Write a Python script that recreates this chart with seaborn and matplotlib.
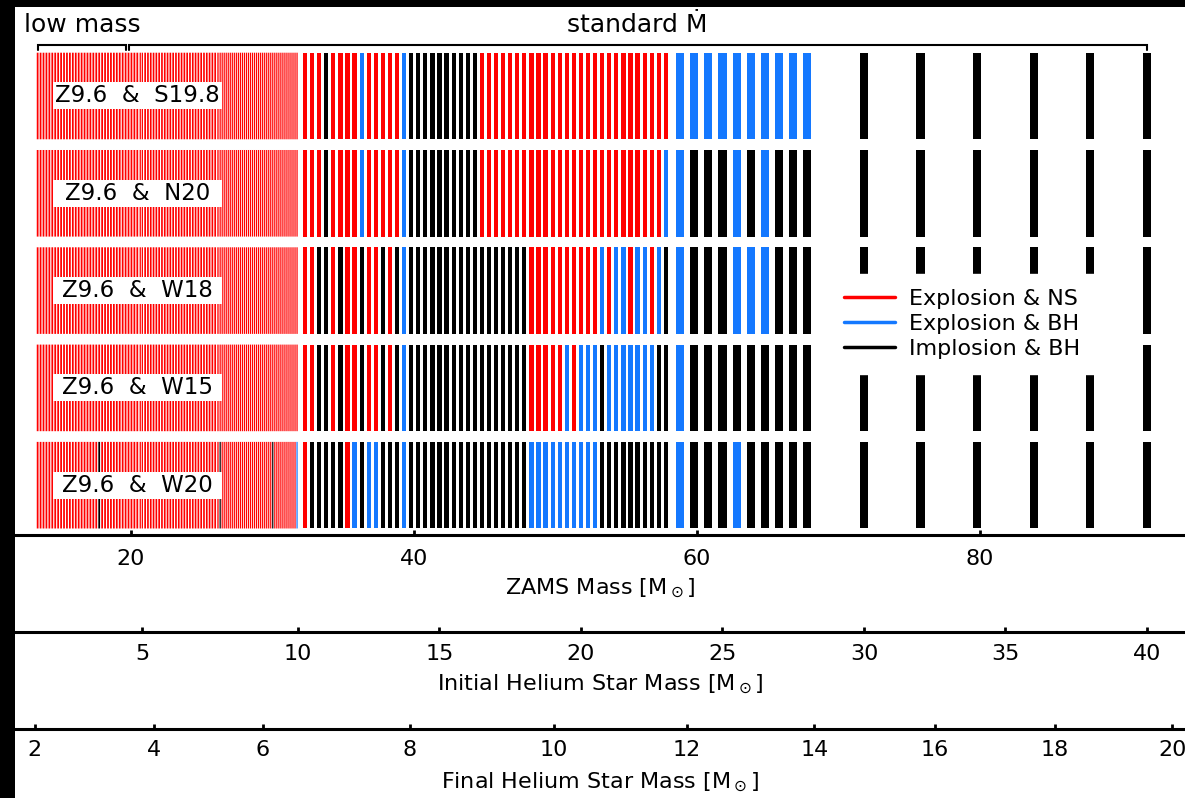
import numpy as np
import matplotlib
matplotlib.use("Agg")
import matplotlib.pyplot as plt
from matplotlib.lines import Line2D
from matplotlib.patches import Rectangle
import seaborn as sns

# ---------------------------------------------------------------- data ----
CALIBRATIONS = ["Z9.6 & S19.8", "Z9.6 & N20", "Z9.6 & W18", "Z9.6 & W15", "Z9.6 & W20"]

OUTCOME_LABELS = {"N": "Explosion & NS", "B": "Explosion & BH", "K": "Implosion & BH"}

# initial helium-star mass grid of the low-mass part: (first mass, step, number of models)
DENSE_SEGMENTS = [(2.50, 0.07, 36), (5.00, 0.09, 28), (7.50, 0.065, 39)]
# outcomes that differ from "Explosion & NS" in the low-mass part (He mass -> outcome)
DENSE_EXCEPTIONS = [
    {},
    {},
    {},
    {},
    {4.00: "K", 7.47: "K", 9.17: "K", 9.97: "B"},
]

# standard mass-loss models, three sub-grids
MASS_B = [10.25 + 0.25 * i for i in range(52)]
MASS_C = [23.5 + 0.5 * i for i in range(10)]
MASS_D = [30.0, 32.0, 34.0, 36.0, 38.0, 40.0]

OUTCOMES_B = [
    "NNNKNNNNBNNNNNB" + "K" * 10 + "N" * 27,
    "NNNKNNNNBNNNNNB" + "K" * 10 + "N" * 26 + "B",
    "NNKKNKNNKNNKNKB" + "K" * 17 + "N" * 10 + "BNBBNBBNBK",
    "NNKKNKNNKNNKNKB" + "K" * 17 + "NNNNNBNBBBK" + "B" * 7 + "KK",
    "NKKKKKNBKBBKKKB" + "K" * 17 + "B" * 10 + "K" * 10,
]
OUTCOMES_C = ["BBBBBBBBBB", "BKKKBKBKKK", "BKKKBBBKKK", "BKKKKKKKKK", "BKKKBKKKKK"]
OUTCOMES_D = ["KKKKKK"] * 5

# relation between initial helium-star mass and ZAMS mass
HE_INIT_REF = [2.5, 5.0, 10.0, 15.0, 20.0, 25.0, 30.0, 35.0, 40.0]
ZAMS_REF = [13.4, 20.8, 31.8, 41.8, 51.8, 61.8, 71.8, 81.8, 91.8]
# relation between final helium-star mass and ZAMS mass
HE_FINAL_REF = [2, 4, 6, 8, 10, 12, 14, 16, 18, 20]
ZAMS_FINAL_REF = [13.2, 21.6, 29.3, 39.7, 49.9, 59.3, 68.3, 76.8, 85.3, 93.6]

ZAMS_TICKS = [20, 40, 60, 80]
HE_INIT_TICKS = [5, 10, 15, 20, 25, 30, 35, 40]
HE_FINAL_TICKS = [2, 4, 6, 8, 10, 12, 14, 16, 18, 20]

LOW_MASS_SPLIT = 4.65  # initial He mass separating "low mass" and "standard" sets

# --------------------------------------------------------------- style ----
sns.set_style("white")
plt.rcParams["font.family"] = ["DejaVu Sans"]
plt.rcParams["mathtext.fontset"] = "dejavusans"
plt.rcParams["text.color"] = "black"
plt.rcParams["axes.labelcolor"] = "black"
plt.rcParams["xtick.color"] = "black"
palette = dict(zip("NBK", sns.color_palette(["#ff0000", "#1478ff", "#000000"])))

FS = 16
W, H = 1185, 798
fig = plt.figure(figsize=(W / 100, H / 100), dpi=100)
fig.patch.set_facecolor("white")

def fx(px):
    return px / W

def fy(py):
    return 1 - py / H

XLIM = (11.80, 94.49)
ax = fig.add_axes([fx(15), fy(535), 1 - fx(15), fy(40) - fy(535)])

# ------------------------------------------------------------- models -----
he_dense = np.concatenate([s + st * np.arange(n) for s, st, n in DENSE_SEGMENTS])
he_all = np.concatenate([he_dense, MASS_B, MASS_C, MASS_D])
zams = np.interp(he_all, HE_INIT_REF, ZAMS_REF)

gaps = np.diff(zams)
spacing = np.minimum(np.r_[gaps[0], gaps], np.r_[gaps, gaps[-1]])
widths = np.minimum(0.6 * spacing, 0.58)
n_dense = len(he_dense)

row_h = 0.89
for r, name in enumerate(CALIBRATIONS):
    codes = ["N"] * n_dense
    for m, c in DENSE_EXCEPTIONS[r].items():
        codes[int(np.argmin(np.abs(he_dense - m)))] = c
    codes += list(OUTCOMES_B[r]) + list(OUTCOMES_C[r]) + list(OUTCOMES_D[r])
    colors = [palette[c] for c in codes]
    # thin low-mass stripes are drawn without pixel snapping, the rest crisp
    ax.bar(zams[:n_dense], row_h, bottom=r - row_h / 2, width=widths[:n_dense],
           color=colors[:n_dense], linewidth=0, align="center", zorder=2, snap=False)
    ax.bar(zams[n_dense:], row_h, bottom=r - row_h / 2, width=widths[n_dense:],
           color=colors[n_dense:], linewidth=0, align="center", zorder=2)

    # calibration label box
    bx0, bx1 = 14.49, 26.43
    bh = 0.2775
    ax.add_patch(Rectangle((bx0, r - bh / 2), bx1 - bx0, bh, facecolor="white",
                           edgecolor="none", zorder=3))
    ax.text((bx0 + bx1) / 2, r, name.replace(" & ", "  &  "), ha="center", va="center",
            fontsize=16.5, zorder=4)

ax.set_xlim(*XLIM)
ax.set_ylim(4.512, -0.5755)
ax.set_yticks([])
for s in ("top", "left", "right"):
    ax.spines[s].set_visible(False)
ax.spines["bottom"].set_linewidth(2.2)
ax.spines["bottom"].set_color("black")
ax.set_xticks(ZAMS_TICKS)
ax.set_xticklabels([str(t) for t in ZAMS_TICKS])
ax.tick_params(axis="x", bottom=True, direction="in", length=3.5, width=2, labelsize=FS,
               pad=10, colors="black")
ax.set_xlabel(r"ZAMS Mass [M$_\odot$]", fontsize=FS, labelpad=6)
ax.patch.set_alpha(0)

# bracket marking the two mass-loss sets
tr = ax.get_xaxis_transform()
z_lo = np.interp(he_all[0], HE_INIT_REF, ZAMS_REF)
z_split = np.interp(LOW_MASS_SPLIT, HE_INIT_REF, ZAMS_REF)
z_hi = np.interp(he_all[-1], HE_INIT_REF, ZAMS_REF)
yb, yt = 0.9889, 0.980
for a, b in ((z_lo, z_split - 0.1), (z_split + 0.1, z_hi)):
    ax.plot([a, a, b, b], [yt, yb, yb, yt], color="black", lw=1.5, transform=tr,
            clip_on=False, solid_joinstyle="miter")
ax.text((z_lo + z_split) / 2, 1.03, "low mass", transform=tr, ha="center", va="center",
        fontsize=18)
ax.text((z_split + z_hi) / 2, 1.03, "standard \u1e40", transform=tr,
        ha="center", va="center", fontsize=18)

# legend
handles = [Line2D([0], [0], color=palette[c], lw=2.5) for c in "NBK"]
leg = ax.legend(handles, [OUTCOME_LABELS[c] for c in "NBK"], loc="center",
                bbox_to_anchor=(fx(962), fy(324)), bbox_transform=fig.transFigure,
                fontsize=FS, frameon=True, fancybox=False, framealpha=1,
                facecolor="white", edgecolor="white", handlelength=2.3,
                handletextpad=0.6, labelspacing=0.22, borderpad=0.7)
leg.set_zorder(10)

# helium-star mass axes on the same ZAMS scale
def mass_axis(py, ticks, positions, label, pad, labelpad):
    a = fig.add_axes([fx(15), fy(py), 1 - fx(15), 0.0001])
    a.set_xlim(*XLIM)
    a.patch.set_alpha(0)
    for s in ("top", "left", "right"):
        a.spines[s].set_visible(False)
    a.spines["bottom"].set_linewidth(2.2)
    a.spines["bottom"].set_color("black")
    a.set_yticks([])
    a.set_xticks(positions)
    a.set_xticklabels([str(t) for t in ticks])
    a.tick_params(axis="x", bottom=True, direction="in", length=3.5, width=2,
                  labelsize=FS, pad=pad, colors="black")
    a.set_xlabel(label, fontsize=FS, labelpad=labelpad)
    return a

mass_axis(632, HE_INIT_TICKS, np.interp(HE_INIT_TICKS, HE_INIT_REF, ZAMS_REF),
          r"Initial Helium Star Mass [M$_\odot$]", 9, 6)
mass_axis(729, HE_FINAL_TICKS, np.interp(HE_FINAL_TICKS, HE_FINAL_REF, ZAMS_FINAL_REF),
          r"Final Helium Star Mass [M$_\odot$]", 8, 8)

# dark margins
fig.add_artist(Rectangle((0, 0), fx(15), 1, transform=fig.transFigure,
                         facecolor="black", edgecolor="none", zorder=20))
fig.add_artist(Rectangle((0, fy(7)), 1, 1 - fy(7), transform=fig.transFigure,
                         facecolor="black", edgecolor="none", zorder=20))

fig.savefig("out.png", dpi=100)
